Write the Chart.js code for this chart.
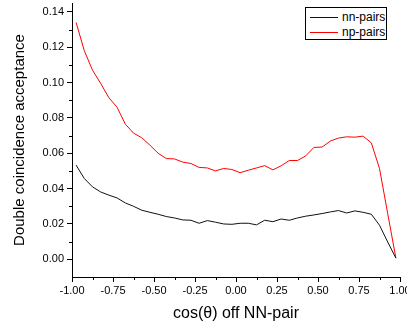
<!DOCTYPE html>
<html>
<head>
<meta charset="utf-8">
<script src="https://cdn.jsdelivr.net/npm/chart.js@4.4.1/dist/chart.umd.min.js"></script>
<style>
    html, body { margin: 0; padding: 0; background: #fff; overflow: hidden; }
    #wrap { position: relative; width: 407px; height: 333px; }
    #legendBox {
        position: absolute; left: 305px; top: 7px; width: 80px; height: 31px;
        border: 1px solid #000; background: #fff;
        font-family: "Liberation Sans", Arial, sans-serif; font-size: 12px;
    }
    .legendRow { position: absolute; left: 3px; height: 14px; line-height: 14px; }
    .legendRow span.line { position: absolute; left: 1px; top: 7px; width: 28px; height: 1px; }
    .legendRow span.text { position: absolute; left: 33px; top: 0; white-space: nowrap; }
</style>
</head>
<body>
<div id="wrap">
    <canvas id="acceptanceChart" width="407" height="333"></canvas>
    <div id="legendBox"></div>
</div>
<script>
// bin centres of cos(theta)
const cosTheta = [-0.975, -0.925, -0.875, -0.825, -0.775, -0.725, -0.675, -0.625, -0.575, -0.525,
    -0.475, -0.425, -0.375, -0.325, -0.275, -0.225, -0.175, -0.125, -0.075, -0.025,
    0.025, 0.075, 0.125, 0.175, 0.225, 0.275, 0.325, 0.375, 0.425, 0.475,
    0.525, 0.575, 0.625, 0.675, 0.725, 0.775, 0.825, 0.875, 0.925, 0.975];

const nnPairs = [0.0533, 0.0457, 0.0410, 0.0381, 0.0363, 0.0347, 0.0319, 0.0300, 0.0278, 0.0266,
    0.0255, 0.0242, 0.0234, 0.0223, 0.0221, 0.0204, 0.0219, 0.0210, 0.0200, 0.0198,
    0.0204, 0.0204, 0.0195, 0.0221, 0.0213, 0.0228, 0.0221, 0.0234, 0.0244, 0.0251,
    0.0259, 0.0268, 0.0276, 0.0262, 0.0274, 0.0266, 0.0255, 0.0193, 0.0098, 0.0007];

const npPairs = [0.1340, 0.1180, 0.1070, 0.0995, 0.0914, 0.0860, 0.0765, 0.0714, 0.0688, 0.0646,
    0.0600, 0.0570, 0.0568, 0.0550, 0.0542, 0.0520, 0.0517, 0.0500, 0.0514, 0.0508,
    0.0490, 0.0504, 0.0517, 0.0530, 0.0506, 0.0529, 0.0559, 0.0559, 0.0585, 0.0633,
    0.0635, 0.0669, 0.0686, 0.0693, 0.0691, 0.0697, 0.0659, 0.0514, 0.0259, 0.0007];

const seriesNames = ['nn-pairs', 'np-pairs'];
const seriesColors = ['#111111', '#ff0000'];
const xTickStep = 0.25;
const yTickStep = 0.02;

const fontFamily = '"Liberation Sans", Arial, sans-serif';

function toPoints(values) {
    return values.map((v, i) => ({ x: cosTheta[i], y: v }));
}

// small minor ticks between the major ones
const minorTicks = {
    id: 'minorTicks',
    afterDraw(chart) {
        const ctx = chart.ctx;
        const xScale = chart.scales.x;
        const yScale = chart.scales.y;
        ctx.save();
        ctx.strokeStyle = '#000';
        ctx.lineWidth = 1;
        ctx.beginPath();
        for (let i = 0; i < xScale.ticks.length - 1; i++) {
            let mid = (xScale.ticks[i].value + xScale.ticks[i + 1].value) / 2;
            let px = Math.round(xScale.getPixelForValue(mid)) + 0.5;
            ctx.moveTo(px, yScale.bottom);
            ctx.lineTo(px, yScale.bottom + 3);
        }
        for (let i = 0; i < yScale.ticks.length - 1; i++) {
            let mid = (yScale.ticks[i].value + yScale.ticks[i + 1].value) / 2;
            let py = Math.round(yScale.getPixelForValue(mid)) + 0.5;
            ctx.moveTo(xScale.left, py);
            ctx.lineTo(xScale.left - 3, py);
        }
        ctx.stroke();
        ctx.restore();
    }
};

let legendBox = document.getElementById('legendBox');
seriesNames.forEach((name, i) => {
    let row = document.createElement('div');
    row.className = 'legendRow';
    row.style.top = (2 + i * 15) + 'px';
    row.innerHTML = '<span class="line" style="background:' + seriesColors[i] + '"></span><span class="text">' + name + '</span>';
    legendBox.appendChild(row);
});

new Chart(document.getElementById('acceptanceChart'), {
    type: 'line',
    data: {
        datasets: [
            {
                label: seriesNames[0],
                data: toPoints(nnPairs),
                borderColor: seriesColors[0],
                borderWidth: 1,
                pointRadius: 0,
                fill: false,
                tension: 0,
            },
            {
                label: seriesNames[1],
                data: toPoints(npPairs),
                borderColor: seriesColors[1],
                borderWidth: 1,
                pointRadius: 0,
                fill: false,
                tension: 0,
            }
        ]
    },
    options: {
        responsive: false,
        animation: false,
        layout: { padding: { left: 0, right: 7, top: 3, bottom: 0 } },
        plugins: {
            legend: { display: false },
            tooltip: { enabled: false },
        },
        scales: {
            x: {
                type: 'linear',
                min: -1,
                max: 1,
                border: { display: true, color: '#000', width: 1 },
                grid: { drawOnChartArea: false, drawTicks: true, tickLength: 5, color: '#000' },
                ticks: {
                    stepSize: xTickStep,
                    padding: 2,
                    maxRotation: 0,
                    color: '#000',
                    font: { family: fontFamily, size: 11 },
                    callback: (v) => v.toFixed(2),
                },
                title: {
                    display: true,
                    text: 'cos(θ) off NN-pair',
                    color: '#000',
                    font: { family: fontFamily, size: 16 },
                    padding: { top: 2, bottom: 10 },
                },
                afterFit(scale) {
                    scale.paddingLeft = 0;
                    scale.paddingRight = 0;
                    scale.height = 56;
                },
            },
            y: {
                min: -0.01,
                max: 0.145,
                border: { display: true, color: '#000', width: 1 },
                grid: { drawOnChartArea: false, drawTicks: true, tickLength: 5, color: '#000' },
                ticks: {
                    stepSize: yTickStep,
                    includeBounds: false,
                    padding: 3,
                    color: '#000',
                    font: { family: fontFamily, size: 11 },
                    callback: (v) => v.toFixed(2),
                },
                title: {
                    display: true,
                    text: 'Double coincidence acceptance',
                    color: '#000',
                    font: { family: fontFamily, size: 15 },
                    padding: { top: 11, bottom: 0 },
                },
                afterFit(scale) {
                    scale.width = 72;
                    scale.paddingTop = 0;
                    scale.paddingBottom = 0;
                },
            }
        }
    },
    plugins: [minorTicks]
});
</script>
</body>
</html>
